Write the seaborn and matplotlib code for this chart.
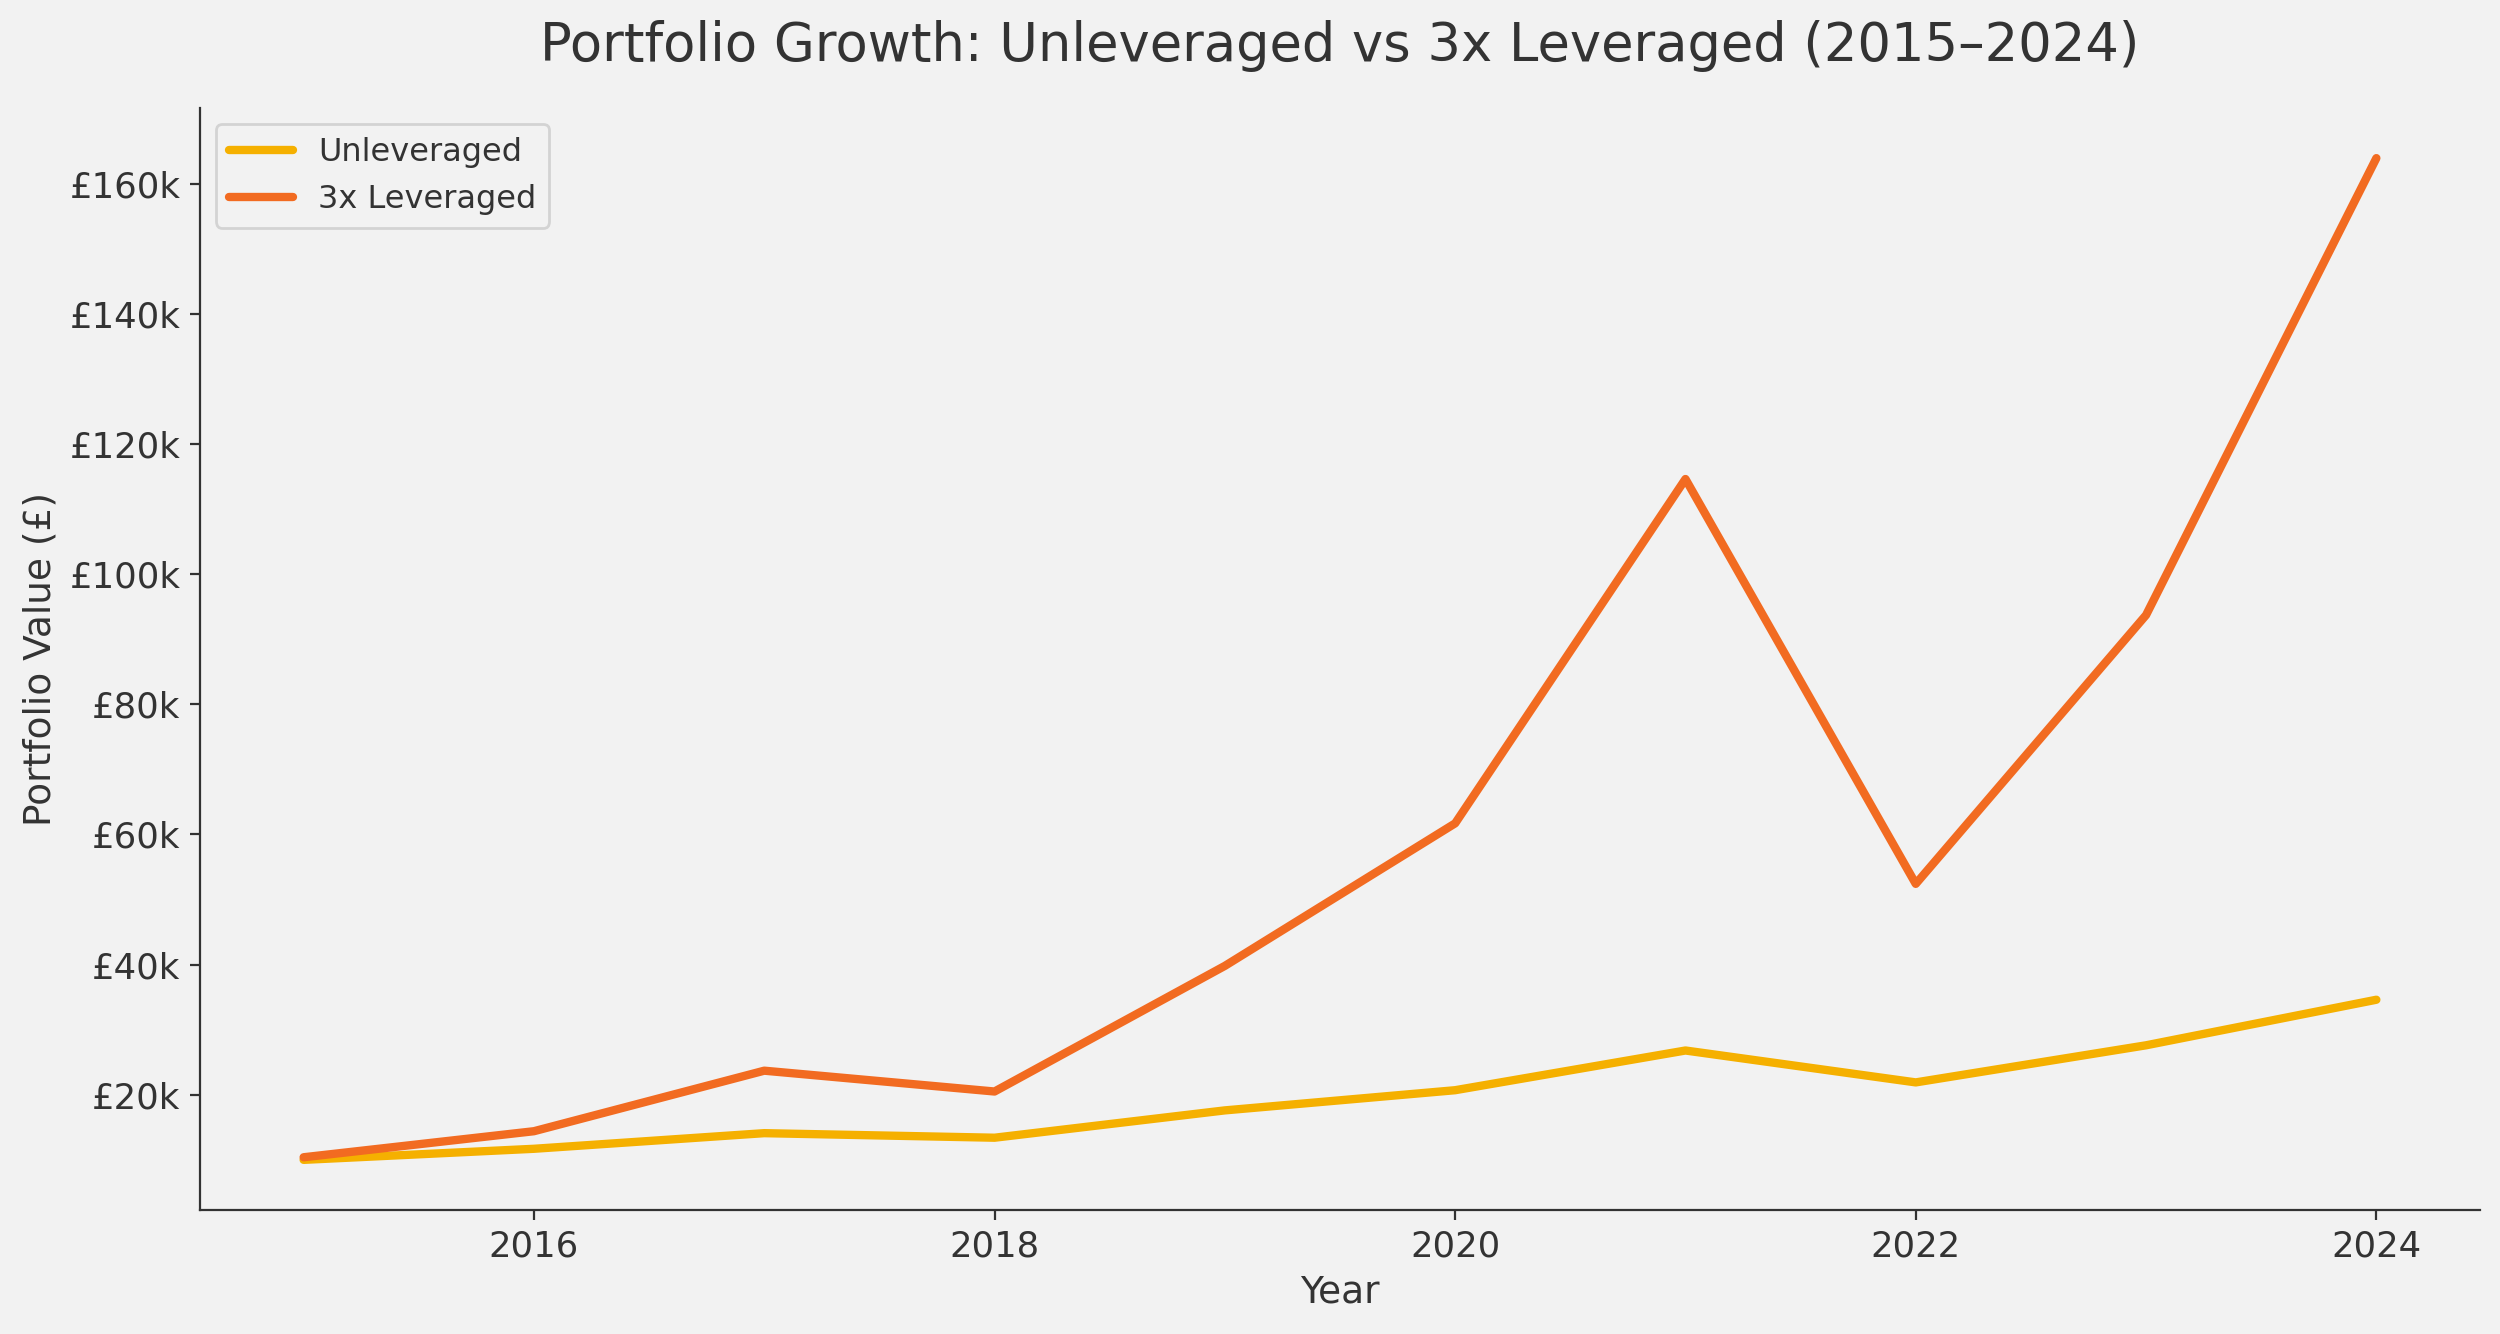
import numpy as np
import pandas as pd
import matplotlib
matplotlib.use("Agg")
import matplotlib.pyplot as plt
from matplotlib.ticker import FuncFormatter
import seaborn as sns

years = [2015, 2016, 2017, 2018, 2019, 2020, 2021, 2022, 2023, 2024]
unleveraged = [10000, 11700, 14100, 13400, 17600, 20700, 26800, 21900, 27600, 34600]
leveraged = [10400, 14400, 23700, 20500, 39800, 61700, 114600, 52400, 93700, 163900]
series_names = ["Unleveraged", "3x Leveraged"]
series_colors = ["#F5B000", "#F26B21"]

df = pd.concat([
    pd.DataFrame({"Year": years, "Value": unleveraged, "Strategy": series_names[0]}),
    pd.DataFrame({"Year": years, "Value": leveraged, "Strategy": series_names[1]}),
])

bg = "#F2F2F2"
txt = "#333333"
sns.set_style("ticks", {"axes.facecolor": bg, "figure.facecolor": bg,
                        "axes.edgecolor": txt, "text.color": txt,
                        "axes.labelcolor": txt, "xtick.color": txt, "ytick.color": txt})

fig, ax = plt.subplots(figsize=(12.5, 6.67), dpi=200)
fig.patch.set_facecolor(bg)

sns.lineplot(data=df, x="Year", y="Value", hue="Strategy", palette=series_colors,
             hue_order=series_names, linewidth=3, ax=ax)

ax.yaxis.set_major_formatter(FuncFormatter(lambda v, p: f"£{v/1000:.0f}k"))
ax.set_title("Portfolio Growth: Unleveraged vs 3x Leveraged (2015–2024)", fontsize=19, pad=17, color=txt)
ax.set_xlabel("Year", fontsize=13.5)
ax.set_ylabel("Portfolio Value (£)", fontsize=13.5)
ax.tick_params(labelsize=12.8)
sns.despine(ax=ax)

leg = ax.legend(loc="upper left", fontsize=11.5, frameon=True, facecolor=bg, edgecolor="#CCCCCC")
for line in leg.get_lines():
    line.set_linewidth(3)

fig.subplots_adjust(left=0.08, right=0.992, top=0.919, bottom=0.093)
fig.savefig("out.png", dpi=200, facecolor=bg)
